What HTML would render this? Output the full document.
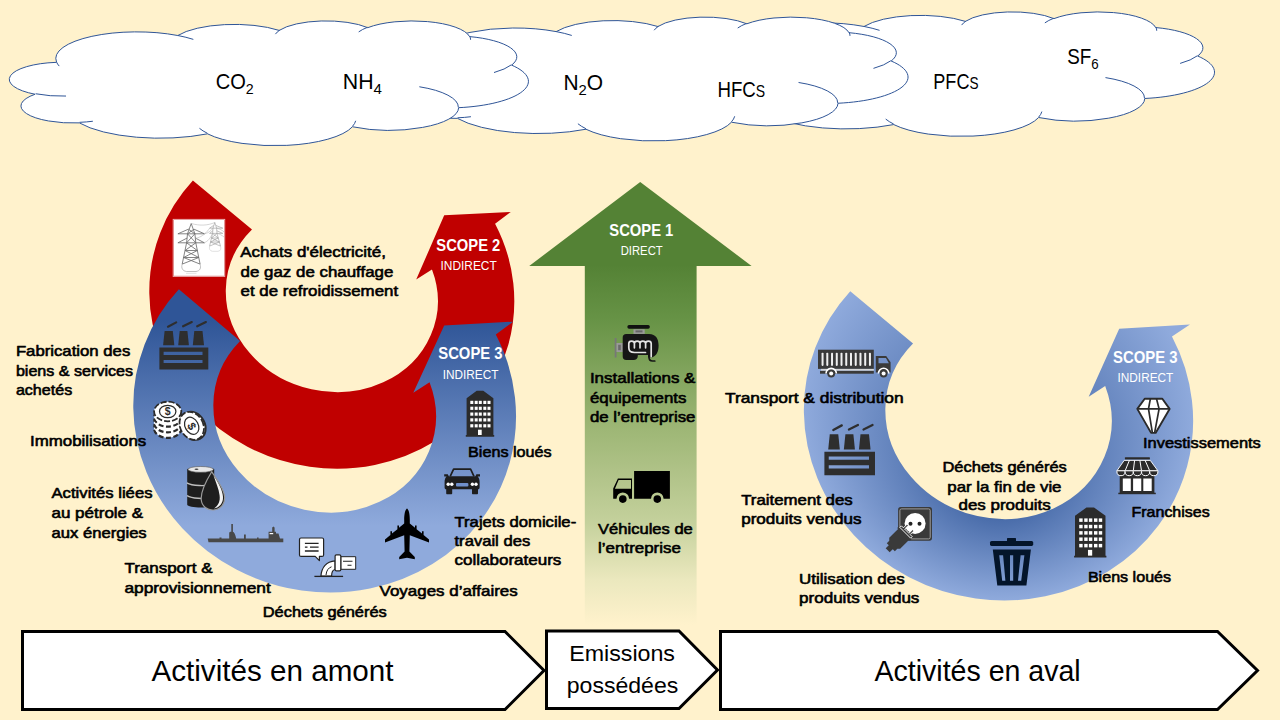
<!DOCTYPE html>
<html><head><meta charset="utf-8"><title>Scopes</title>
<style>
html,body{margin:0;padding:0;background:#FFF2CC;}
body{width:1280px;height:720px;overflow:hidden;position:relative;font-family:"Liberation Sans",sans-serif;}
svg{position:absolute;left:0;top:0;}
.lbl{position:absolute;font-weight:bold;font-size:15px;line-height:20px;color:#000;white-space:nowrap;letter-spacing:0px;}
.cal{position:absolute;white-space:nowrap;color:#000;}
</style></head><body>
<svg width="1280" height="720" viewBox="0 0 1280 720">
<defs>
<linearGradient id="gG" x1="0" y1="182" x2="0" y2="640" gradientUnits="userSpaceOnUse">
<stop offset="0" stop-color="#548235"/><stop offset="0.181" stop-color="#548235"/><stop offset="0.301" stop-color="#679346"/><stop offset="0.541" stop-color="#9EB776"/><stop offset="0.629" stop-color="#AFC287"/><stop offset="0.738" stop-color="#C3D09B"/><stop offset="0.869" stop-color="#EBE8BE"/><stop offset="0.967" stop-color="#FFF2CC"/><stop offset="1" stop-color="#FFF2CC"/></linearGradient>
<linearGradient id="gB" x1="0" y1="290" x2="0" y2="592" gradientUnits="userSpaceOnUse">
<stop offset="0.1" stop-color="#2F5597"/><stop offset="0.78" stop-color="#8FAADC"/></linearGradient>
<radialGradient id="gR" cx="0" cy="0" r="1" fx="0.1055" fy="0.378" gradientUnits="userSpaceOnUse" gradientTransform="translate(998.5 415.4) rotate(15.3) scale(195.4 184.3)">
<stop offset="0" stop-color="#2F5597"/><stop offset="1" stop-color="#8FAADC"/></radialGradient>
</defs>
<path d="M742.79 52.88A81.02 26.46 0 0 1 778.13 27.29A81.02 26.46 0 0 1 864.03 26.48A63.98 20.93 0 0 1 965.42 21.38A52.37 17.12 0 0 1 1053.93 18.64A58.27 18.99 0 0 1 1113.50 12.58A58.27 18.99 0 0 1 1155.73 27.56A63.98 20.94 0 0 1 1197.72 56.02A81.28 26.55 0 0 1 1144.77 98.47A69.41 22.65 0 0 1 1108.78 118.15A69.41 22.65 0 0 1 1038.61 117.51A81.01 26.54 0 0 1 972.99 136.07A81.01 26.54 0 0 1 893.73 124.57A92.62 30.36 0 0 1 765.65 113.64A52.31 17.04 0 0 1 712.85 104.40A52.31 17.04 0 0 1 721.36 85.07A52.13 17.12 0 0 1 696.76 66.67A52.13 17.12 0 0 1 742.35 53.27Z" fill="#fff" stroke="#2F5597" stroke-width="1"/><path d="M752.31 86.88A52.13 17.12 0 0 1 721.91 84.58M779.12 112.00A52.31 17.04 0 0 1 765.82 113.09M893.70 124.06A81.01 26.54 0 0 1 885.69 119.05M1041.86 111.57A81.01 26.54 0 0 1 1038.66 117.07M1105.47 77.60A69.41 22.65 0 0 1 1144.48 98.15M1197.48 55.71A63.98 20.94 0 0 1 1180.11 63.42M1155.80 27.12A58.27 18.99 0 0 1 1156.72 30.76M1044.87 22.88A58.27 18.99 0 0 1 1053.77 18.24M961.64 25.09A52.37 17.12 0 0 1 965.95 21.09M863.97 26.45A81.02 26.46 0 0 1 879.56 30.33M745.51 56.97A81.02 26.46 0 0 1 742.79 52.88" fill="none" stroke="#2F5597" stroke-width="1"/>
<path d="M434.47 57.88A81.33 26.34 0 0 1 469.95 32.42A81.33 26.34 0 0 1 556.18 31.61A64.23 20.83 0 0 1 657.96 26.54A52.57 17.04 0 0 1 746.81 23.81A58.50 18.90 0 0 1 806.61 17.78A58.50 18.90 0 0 1 849.00 32.68A64.23 20.84 0 0 1 891.16 61.00A81.60 26.42 0 0 1 838.00 103.25A69.67 22.54 0 0 1 801.87 122.83A69.67 22.54 0 0 1 731.43 122.20A81.32 26.41 0 0 1 665.56 140.67A81.32 26.41 0 0 1 585.99 129.22A92.98 30.21 0 0 1 457.41 118.35A52.51 16.96 0 0 1 404.42 109.15A52.51 16.96 0 0 1 412.96 89.91A52.33 17.04 0 0 1 388.26 71.60A52.33 17.04 0 0 1 434.03 58.27Z" fill="#fff" stroke="#2F5597" stroke-width="1"/><path d="M444.02 91.72A52.33 17.04 0 0 1 413.51 89.43M470.94 116.71A52.51 16.96 0 0 1 457.59 117.80M585.96 128.72A81.32 26.41 0 0 1 577.92 123.74M734.69 116.29A81.32 26.41 0 0 1 731.48 121.76M798.55 82.48A69.67 22.54 0 0 1 837.71 102.93M890.91 60.70A64.23 20.84 0 0 1 873.48 68.37M849.07 32.25A58.50 18.90 0 0 1 849.99 35.87M737.71 28.03A58.50 18.90 0 0 1 746.65 23.41M654.17 30.23A52.57 17.04 0 0 1 658.49 26.24M556.12 31.58A81.33 26.34 0 0 1 571.77 35.44M437.21 61.95A81.33 26.34 0 0 1 434.47 57.88" fill="none" stroke="#2F5597" stroke-width="1"/>
<path d="M56.51 61.98A81.05 26.53 0 0 1 91.86 36.33A81.05 26.53 0 0 1 177.79 35.52A64.01 20.98 0 0 1 279.22 30.41A52.39 17.16 0 0 1 367.76 27.66A58.30 19.04 0 0 1 427.36 21.59A58.30 19.04 0 0 1 469.61 36.60A64.01 20.99 0 0 1 511.62 65.13A81.32 26.61 0 0 1 458.64 107.68A69.43 22.71 0 0 1 422.64 127.40A69.43 22.71 0 0 1 352.44 126.76A81.04 26.60 0 0 1 286.80 145.37A81.04 26.60 0 0 1 207.50 133.84A92.66 30.43 0 0 1 79.37 122.89A52.33 17.08 0 0 1 26.56 113.62A52.33 17.08 0 0 1 35.07 94.25A52.15 17.16 0 0 1 10.46 75.80A52.15 17.16 0 0 1 56.07 62.37Z" fill="#fff" stroke="#2F5597" stroke-width="1"/><path d="M66.03 96.06A52.15 17.16 0 0 1 35.62 93.76M92.85 121.24A52.33 17.08 0 0 1 79.55 122.34M207.47 133.34A81.04 26.60 0 0 1 199.46 128.31M355.69 120.81A81.04 26.60 0 0 1 352.49 126.32M419.33 86.76A69.43 22.71 0 0 1 458.35 107.36M511.37 64.82A64.01 20.99 0 0 1 494.00 72.54M469.68 36.16A58.30 19.04 0 0 1 470.59 39.81M358.70 31.91A58.30 19.04 0 0 1 367.61 27.26M275.44 34.12A52.39 17.16 0 0 1 279.75 30.11M177.73 35.49A81.05 26.53 0 0 1 193.33 39.38M59.23 66.08A81.05 26.53 0 0 1 56.51 61.98" fill="none" stroke="#2F5597" stroke-width="1"/>

<polygon points="640.2,182 751.6,266 696.6,266 696.6,640 584.8,640 584.8,266 529.2,266" fill="url(#gG)"/>
<path d="M192.88 180.62A183.10 171.80 13.50 0 0 149.31 293.41A183.10 171.80 13.50 0 0 195.94 407.57A183.10 171.80 13.50 0 0 309.72 466.69A183.10 171.80 13.50 0 0 434.41 441.54A183.10 171.80 13.50 0 0 508.39 344.55A183.10 171.80 13.50 0 0 495.08 223.66L510.80 212.00 L444.20 215.30 L416.20 279.50L431.97 269.43A106.60 95.30 13.50 0 1 430.82 334.99A106.60 95.30 13.50 0 1 383.24 382.36A106.60 95.30 13.50 0 1 311.53 389.32A106.60 95.30 13.50 0 1 249.33 352.61A106.60 95.30 13.50 0 1 225.81 289.44A106.60 95.30 13.50 0 1 251.99 229.44Z" fill="#C00000"/>
<path d="M178.87 289.29A192.10 180.80 14.75 0 0 133.28 408.04A192.10 180.80 14.75 0 0 182.29 528.26A192.10 180.80 14.75 0 0 301.67 590.51A192.10 180.80 14.75 0 0 432.41 564.02A192.10 180.80 14.75 0 0 509.88 461.89A192.10 180.80 14.75 0 0 495.79 334.61L513.00 321.70 L444.20 325.50 L413.30 392.80L429.54 382.13A112.00 100.70 14.75 0 1 428.92 451.43A112.00 100.70 14.75 0 1 379.47 501.81A112.00 100.70 14.75 0 1 304.35 509.66A112.00 100.70 14.75 0 1 238.73 471.31A112.00 100.70 14.75 0 1 213.35 404.72A112.00 100.70 14.75 0 1 240.09 341.07Z" fill="url(#gB)"/>
<path d="M850.28 291.28A195.40 184.30 15.30 0 0 803.87 412.55A195.40 184.30 15.30 0 0 853.97 535.23A195.40 184.30 15.30 0 0 975.73 598.50A195.40 184.30 15.30 0 0 1108.78 570.97A195.40 184.30 15.30 0 0 1187.15 466.31A195.40 184.30 15.30 0 0 1171.98 336.40L1190.00 324.50 L1119.20 328.70 L1088.70 396.70L1105.18 385.97A113.90 102.80 15.30 0 1 1104.44 456.84A113.90 102.80 15.30 0 1 1053.96 508.24A113.90 102.80 15.30 0 1 977.43 516.05A113.90 102.80 15.30 0 1 910.80 476.60A113.90 102.80 15.30 0 1 885.35 408.40A113.90 102.80 15.30 0 1 913.03 343.50Z" fill="url(#gR)"/>
<g fill="#fff" stroke="#000" stroke-width="3" stroke-linejoin="miter">
<polygon points="22.5,631.5 505,631.5 544,670.5 505,709.5 22.5,709.5"/>
<polygon points="546.5,631 679,631 717.5,670 679,708.5 546.5,708.5"/>
<polygon points="720.5,631.5 1217.5,631.5 1257.5,670.5 1217.5,709.5 720.5,709.5"/>
</g>
<g font-family="'Liberation Sans',sans-serif">
<rect x="173.7" y="219.9" width="50.5" height="56" fill="#fff"/><rect x="173.2" y="219.4" width="51.5" height="57" fill="none" stroke="#e8b0b0" stroke-width="1"/><g fill="none" stroke="#6e6e6e" stroke-width="0.85" stroke-linejoin="round"><path d="M191.2 223.5L187.5 233.8H177.9L188.4 229.2M191.2 223.5L194.9 233.8H204.4L194 229.2M187.5 233.8H194.9M187.5 233.8L186.6 242.8H177.9L187.2 238M194.9 233.8L195.8 242.8H204.4L195.2 238M186.6 242.8H195.8"/><path d="M186.6 242.8L182.2 264.1M195.8 242.8L200.1 264.1M187.5 233.8L195.8 242.8M194.9 233.8L186.6 242.8M186.6 242.8L197.3 250.5M195.8 242.8L185 250.5M185 250.5H197.3M185 250.5L198.8 257.5M197.3 250.5L183.6 257.5M183.6 257.5H198.8M183.6 257.5L200.1 264.1M198.8 257.5L182.2 264.1M188.4 229.2L194.9 233.8M194 229.2L187.5 233.8"/><path d="M182.2 264.1C181 268 182.5 271 186.5 271.5H196C200 271 201.3 268 200.1 264.1" stroke="#b5b5b5"/><path d="M186 273.3H196.5" stroke="#ddd"/><g stroke="#9a9a9a" stroke-width="0.6"><path d="M214.8 222.5L213 228.2H209.6L213.5 225.5M214.8 222.5L216.6 228.2H222.8L216 225.5M213 228.2H216.6M213 228.2L212.6 233.4H209.6L212.8 230.8M216.6 228.2L217 233.4H222.8L216.8 230.8M212.6 233.4H217M212.6 233.4L209.6 246.1M217 233.4L220.5 246.1M212.6 233.4L218.2 238M217 233.4L211.5 238M211.5 238H218.2M211.5 238L219.4 242M218.2 238L210.6 242M210.6 242H219.4M210.6 242L220.5 246.1M219.4 242L209.6 246.1"/><path d="M209.6 246.1C208.8 249 210 251 212.5 251.3H218C220.5 251 221.4 249 220.5 246.1" stroke="#ccc"/></g><path d="M191.2 223.5C200 226 208 225.5 214.8 222.5M204.4 233.8C210 232.5 211 230 213 228.2M204.4 242.8C210 240 211 236 212.6 233.4M194.9 238.5C203 237 207 232 209.6 228.2M216.6 228.2C220 229 222 230 224 232M217 233.4C220 234 222 235.5 224 237" stroke="#aaa" stroke-width="0.5"/></g>
<g transform="translate(159.4 321.5) scale(1.0000 1.0000)" fill="#2e2e2e">
<g stroke="#2e2e2e" stroke-width="2.2" stroke-linecap="round"><path d="M8.6 5.2L16.8 0.9M23.7 4.8L32.4 0.6M37.8 4.8L46.5 0.6"/></g>
<polygon points="3.7,23.7 5.2,9.4 13.4,9.4 14.9,23.7"/><polygon points="18.8,23.7 20.3,9.4 28,9.4 29.5,23.7"/><polygon points="33.4,23.7 34.9,9.4 43.1,9.4 44.6,23.7"/>
<path fill-rule="evenodd" d="M0 25.9H48.9V48H0ZM4.2 30.3V33.4H43.1V30.3ZM4.2 38.5V41.5H43.1V38.5Z"/>
</g>
<g stroke="#2b2b2b" stroke-width="1.3" fill="#fff"><ellipse cx="167.7" cy="428.3" rx="13.6" ry="9.6" stroke-dasharray="5 2.5" stroke-width="2.2"/><ellipse cx="167.7" cy="427.1" rx="13" ry="9" stroke="none"/><ellipse cx="167.7" cy="422.7" rx="13.6" ry="9.6" stroke-dasharray="5 2.5" stroke-width="2.2"/><ellipse cx="167.7" cy="421.5" rx="13" ry="9" stroke="none"/><ellipse cx="167.7" cy="417.1" rx="13.6" ry="9.6" stroke-dasharray="5 2.5" stroke-width="2.2"/><ellipse cx="167.7" cy="415.9" rx="13" ry="9" stroke="none"/><ellipse cx="167.7" cy="411.5" rx="13.6" ry="9.8" stroke-width="1.8" stroke-dasharray="6 2"/><ellipse cx="167.7" cy="411.5" rx="12" ry="8.4" stroke="none"/><ellipse cx="167.7" cy="411.5" rx="8.2" ry="6.2" stroke-width="1.25"/><g transform="rotate(-28 191.7 425.8)"><ellipse cx="193.2" cy="426.6" rx="11.5" ry="14.6" stroke-width="2" /><ellipse cx="191.7" cy="425.8" rx="11.5" ry="14.6" stroke-width="1.8" stroke-dasharray="6 2"/><ellipse cx="191.7" cy="425.8" rx="10" ry="13" stroke="none"/><ellipse cx="191.7" cy="425.8" rx="6.6" ry="9" stroke-width="1.25"/></g></g><text x="167.7" y="415.3" font-size="10.5" font-weight="bold" text-anchor="middle" fill="#2b2b2b" transform="translate(0 0)">$</text><text x="191.9" y="430.2" font-size="11.5" font-weight="bold" text-anchor="middle" fill="#2b2b2b" transform="rotate(62 191.9 426)">$</text>
<g>
<path d="M187.2 469.5C187.2 466.5 214.2 466.5 214.2 469.5V504.5C214.2 508.5 187.2 508.5 187.2 504.5Z" fill="#1e1e1e"/>
<ellipse cx="200.7" cy="469.4" rx="12.6" ry="2.9" fill="#e8e8e8" stroke="#555" stroke-width="0.6"/><ellipse cx="196.5" cy="469.2" rx="2" ry="0.8" fill="#444"/>
<path d="M186.8 482.8C192 486 206 486.5 214 484M187 495.6C192 498.6 203 499.2 212 497.5" fill="none" stroke="#bdbdbd" stroke-width="1.4"/>
<path d="M211.7 471.7C206 481 200.6 491 201.2 499.5C201.8 506.5 207.5 510.3 213.6 510C220.5 509.6 225.3 504 224.6 496.5C223.8 488 216.5 479 211.7 471.7Z" fill="#1e1e1e" stroke="#9a9a9a" stroke-width="1.2"/>
<path d="M213.5 475.5C218.5 483 222.6 490 223 497C223.3 503 219.5 507.6 214 508.6C218.5 505.5 220.3 501 219.6 495.5C218.8 489 216 482.5 213.5 475.5Z" fill="#f2f2f2"/>
</g>
<path fill="#484848" d="M207.7 538.4H219.5V537.6H221.5V538.4H229.2V533.2C229.2 532 230 531.8 231.3 531.8V524H232.9V531.8C234 531.8 235.2 534 236.2 538.4H244V534.5H245.8V538.4H257V537.4H258.6V538.4H268.6V531.8H272.2V527.5L273.4 526.5L274.6 527.5V531.8H276V533.5H278.5L280 538.4H283.3V542.3H208.5Z"/>
<rect x="269.6" y="533" width="3.6" height="1.2" fill="#fff"/>
<g stroke="#222" stroke-width="1.2" fill="#fff" stroke-linejoin="round">
<path d="M301 538H322.1C323 538 323.6 538.7 323.6 539.5V554.9C323.6 555.7 323 556.4 322.1 556.4H319.4V560.6L315.2 556.4H301C300.2 556.4 299.5 555.7 299.5 554.9V539.5C299.5 538.7 300.2 538 301 538Z"/>
<path d="M304.9 543.4H318.6M304.9 547.2H307.5M310 547.2H318.6M304.9 551H318.6" fill="none" stroke-width="1.3"/>
<path d="M320.9 576.2C321.5 568 326 561.5 335.1 560.8V569.5C332.5 569.8 331.6 572.5 331.6 576.2Z"/>
<path d="M326 575C326.4 570.5 328.5 567.8 331.5 566.8" fill="none" stroke-width="1"/>
<rect x="340.8" y="556.7" width="14.9" height="12.6" stroke-width="1"/>
<path d="M343 561.2H352.5M347.5 565.2H351.5" fill="none" stroke-width="1.1"/>
<rect x="335.1" y="554.8" width="5.7" height="16.1" rx="1.3"/>
<path d="M314.4 576.4H343.1" fill="none" stroke-width="1.3"/>
</g>
<path fill="#000" d="M407 508.6C409.2 510 409.8 515.5 409.8 520V523.6L415 527.8V525.5H416.6V529.2L422 533.6V531.3H423.6V535L429 539.5V542.6L409.8 535.2L409.4 551.5L414.8 557V559.3L407 557.8L399.2 559.3V557L404.6 551.5L404.2 535.2L385 542.6V539.5L390.4 535V531.3H392V533.6L397.4 529.2V525.5H399V527.8L404.2 523.6V520C404.2 515.5 404.8 510 407 508.6Z"/>
<g>
<path d="M450.2 476.3L453.6 469.2H470.6L474 476.3" fill="none" stroke="#1e1e1e" stroke-width="1.7" stroke-linejoin="round"/>
<path fill="#1e1e1e" d="M444.2 474.3H447.8L448.8 476.2H475.4L476.4 474.3H480V476.6H477.6C479 477.6 479.6 479.5 479.6 482V487.5C479.6 488.6 479 489.3 478 489.3V493.2C478 493.8 477.6 494.2 477 494.2H473C472.4 494.2 472 493.8 472 493.2V489.3H452.2V493.2C452.2 493.8 451.8 494.2 451.2 494.2H447.2C446.6 494.2 446.2 493.8 446.2 493.2V489.3C445.2 489.3 444.6 488.6 444.6 487.5V482C444.6 479.5 445.2 477.6 446.6 476.6H444.2Z"/>
<g fill="#fff"><circle cx="448.2" cy="484.3" r="1.7"/><circle cx="451.8" cy="484.3" r="1.7"/><circle cx="472.4" cy="484.3" r="1.7"/><circle cx="476" cy="484.3" r="1.7"/></g>
<rect x="456" y="483" width="12.4" height="3.6" rx="1" fill="#6f8fca"/>
</g>
<g transform="translate(465.8 390.8) scale(1.0000 1.0000)"><path fill="#2b2b2b" d="M0.8 44.3V7.5L10.9 0H17.5L27.6 7.5V44.3H28.4V45.9H0V44.3Z"/><g fill="#fff"><rect x="4.5" y="10.0" width="3" height="3.2"/><rect x="4.5" y="15.9" width="3" height="3.2"/><rect x="4.5" y="21.7" width="3" height="3.2"/><rect x="4.5" y="27.5" width="3" height="3.2"/><rect x="4.5" y="33.4" width="3" height="3.2"/><rect x="8.9" y="10.0" width="3" height="3.2"/><rect x="8.9" y="15.9" width="3" height="3.2"/><rect x="8.9" y="21.7" width="3" height="3.2"/><rect x="8.9" y="27.5" width="3" height="3.2"/><rect x="8.9" y="33.4" width="3" height="3.2"/><rect x="13.0" y="10.0" width="3" height="3.2"/><rect x="13.0" y="15.9" width="3" height="3.2"/><rect x="13.0" y="21.7" width="3" height="3.2"/><rect x="13.0" y="27.5" width="3" height="3.2"/><rect x="13.0" y="33.4" width="3" height="3.2"/><rect x="17.5" y="10.0" width="3" height="3.2"/><rect x="17.5" y="15.9" width="3" height="3.2"/><rect x="17.5" y="21.7" width="3" height="3.2"/><rect x="17.5" y="27.5" width="3" height="3.2"/><rect x="17.5" y="33.4" width="3" height="3.2"/><rect x="21.7" y="10.0" width="3" height="3.2"/><rect x="21.7" y="15.9" width="3" height="3.2"/><rect x="21.7" y="21.7" width="3" height="3.2"/><rect x="21.7" y="27.5" width="3" height="3.2"/><rect x="21.7" y="33.4" width="3" height="3.2"/><rect x="12.2" y="38.9" width="3.7" height="5.3"/></g></g>
<g>
<rect x="627.4" y="325" width="22.4" height="3.7" rx="1.6" fill="#111"/>
<rect x="633.5" y="329.3" width="11.2" height="4.6" fill="#9a9a9a"/><rect x="635.5" y="330.4" width="7" height="2" fill="#666"/>
<rect x="614.7" y="338" width="1.8" height="19.5" fill="#777"/><rect x="616.5" y="343" width="6.4" height="9" fill="#9a9a9a"/><rect x="618.2" y="344.8" width="2.6" height="5.4" fill="#6a6a6a"/>
<path fill="#161616" d="M626.2 334H649C656 334 658.6 339 658.6 345.5C658.6 351.5 656.5 355.8 652.5 357.2L648 357.4V355H637.8V356C637.8 358.5 636 360 633.5 360H626.2C624 360 622.7 358.6 622.7 356.5V337.5C622.7 335.4 624 334 626.2 334Z"/>
<path d="M628.8 347.8V343.6C628.8 340.2 634.4 340.2 634.4 343.6V347.8M634.4 343.6C634.4 340.2 640 340.2 640 343.6V347.8M640 343.6C640 340.2 645.6 340.2 645.6 343.6V347.8M645.6 343.6C645.6 340.2 651.2 340.2 651.2 343.6V356.6M628.8 347.8C628.8 351.6 631.5 352.5 634.5 352.5H645.5" fill="none" stroke="#e4e4e4" stroke-width="1.7" stroke-linecap="round"/>
<path d="M649 353V357C649 360 650.5 361 652.5 361H654.8" fill="none" stroke="#161616" stroke-width="1.7" stroke-linecap="round"/>
</g>
<g fill="#000">
<path fill-rule="evenodd" d="M634.1 471H669.9V498.8H663.6A6.3 6.3 0 0 0 651 498.8H634.1Z"/>
<path fill-rule="evenodd" d="M617.9 478.4H632V498.8H629.1A6.3 6.3 0 0 0 616.5 498.8H613.2V488.4ZM618.6 480L614.9 488.8H631V480Z"/>
<circle cx="622.8" cy="499.1" r="3.8"/><circle cx="657.3" cy="499.1" r="3.8"/>
</g>
<g><rect x="818" y="349.7" width="55.8" height="19.2" fill="#3a3a3a"/><rect x="821.55" y="352.8" width="2" height="13.1" rx="0.8" fill="#f0f0f0"/><rect x="826.29" y="352.8" width="2" height="13.1" rx="0.8" fill="#f0f0f0"/><rect x="831.03" y="352.8" width="2" height="13.1" rx="0.8" fill="#f0f0f0"/><rect x="835.77" y="352.8" width="2" height="13.1" rx="0.8" fill="#f0f0f0"/><rect x="840.51" y="352.8" width="2" height="13.1" rx="0.8" fill="#f0f0f0"/><rect x="845.25" y="352.8" width="2" height="13.1" rx="0.8" fill="#f0f0f0"/><rect x="849.99" y="352.8" width="2" height="13.1" rx="0.8" fill="#f0f0f0"/><rect x="854.73" y="352.8" width="2" height="13.1" rx="0.8" fill="#f0f0f0"/><rect x="859.47" y="352.8" width="2" height="13.1" rx="0.8" fill="#f0f0f0"/><rect x="864.21" y="352.8" width="2" height="13.1" rx="0.8" fill="#f0f0f0"/><rect x="868.95" y="352.8" width="2" height="13.1" rx="0.8" fill="#f0f0f0"/><rect x="821" y="368.9" width="52.8" height="1.8" fill="#d8d8d8"/><rect x="820" y="370.9" width="53.8" height="2.8" fill="#3a3a3a"/><path fill="#3a3a3a" fill-rule="evenodd" d="M875.8 356.1H886.2L890.6 362.2V372.6H875.8ZM878.5 358.1V363.2H888.9L885.9 358.1Z"/><path d="M826.0 373.5A5.2 5.2 0 0 1 836.4 373.5" fill="none" stroke="#fff" stroke-width="1.6"/><circle cx="831.2" cy="373.5" r="3.9" fill="#3a3a3a"/><circle cx="831.2" cy="373.5" r="2" fill="#fff"/><path d="M878.4 373.5A5.2 5.2 0 0 1 888.8 373.5" fill="none" stroke="#fff" stroke-width="1.6"/><circle cx="883.6" cy="373.5" r="3.9" fill="#3a3a3a"/><circle cx="883.6" cy="373.5" r="2" fill="#fff"/></g>
<g transform="translate(824.4 424.4) scale(1.0348 1.0604)" fill="#2e2e2e">
<g stroke="#2e2e2e" stroke-width="2.2" stroke-linecap="round"><path d="M8.6 5.2L16.8 0.9M23.7 4.8L32.4 0.6M37.8 4.8L46.5 0.6"/></g>
<polygon points="3.7,23.7 5.2,9.4 13.4,9.4 14.9,23.7"/><polygon points="18.8,23.7 20.3,9.4 28,9.4 29.5,23.7"/><polygon points="33.4,23.7 34.9,9.4 43.1,9.4 44.6,23.7"/>
<path fill-rule="evenodd" d="M0 25.9H48.9V48H0ZM4.2 30.3V33.4H43.1V30.3ZM4.2 38.5V41.5H43.1V38.5Z"/>
</g>
<g>
<rect x="898.1" y="507.1" width="33.9" height="33.6" rx="2.6" fill="#3a3a3a"/>
<rect x="899.9" y="508.9" width="30.3" height="30" rx="1.6" fill="none" stroke="#a8a8a8" stroke-width="0.9"/>
<circle cx="915.1" cy="523.4" r="10.5" fill="#fff"/><circle cx="910.5" cy="523.8" r="2" fill="#222"/><circle cx="919.5" cy="523.8" r="2" fill="#222"/>
<g transform="rotate(-45 900 538)">
<rect x="882.6" y="535.2" width="5.4" height="5.6" fill="#3a3a3a"/>
<path d="M887 532.3H890.5L892.5 530.3H905V529H907.4V547H905V545.7H892.5L890.5 543.7H887Z" fill="#3a3a3a"/>
<path d="M907.4 530.4H909.6V533.2H914.8V535H909.6V541H914.8V542.8H909.6V545.6H907.4Z" fill="#3a3a3a" stroke="#fff" stroke-width="0.9"/>
</g>
</g>
<g fill="#04152a">
<rect x="1007" y="537.9" width="9" height="4" rx="0.6"/>
<rect x="990" y="541" width="43.2" height="4.9" rx="1.6"/>
<path fill-rule="evenodd" d="M992.8 549.4H1030.9L1026.4 585.6H997.3ZM999.2 555.2L1002.2 580.8H1005.4L1003.1 555.2ZM1010 555.2V580.8H1013.2V555.2ZM1020.6 555.2L1018 580.8H1021.2L1024.4 555.2Z"/>
</g>
<g transform="translate(1074.1 507.5) scale(1.1373 1.0893)"><path fill="#2b2b2b" d="M0.8 44.3V7.5L10.9 0H17.5L27.6 7.5V44.3H28.4V45.9H0V44.3Z"/><g fill="#fff"><rect x="4.5" y="10.0" width="3" height="3.2"/><rect x="4.5" y="15.9" width="3" height="3.2"/><rect x="4.5" y="21.7" width="3" height="3.2"/><rect x="4.5" y="27.5" width="3" height="3.2"/><rect x="4.5" y="33.4" width="3" height="3.2"/><rect x="8.9" y="10.0" width="3" height="3.2"/><rect x="8.9" y="15.9" width="3" height="3.2"/><rect x="8.9" y="21.7" width="3" height="3.2"/><rect x="8.9" y="27.5" width="3" height="3.2"/><rect x="8.9" y="33.4" width="3" height="3.2"/><rect x="13.0" y="10.0" width="3" height="3.2"/><rect x="13.0" y="15.9" width="3" height="3.2"/><rect x="13.0" y="21.7" width="3" height="3.2"/><rect x="13.0" y="27.5" width="3" height="3.2"/><rect x="13.0" y="33.4" width="3" height="3.2"/><rect x="17.5" y="10.0" width="3" height="3.2"/><rect x="17.5" y="15.9" width="3" height="3.2"/><rect x="17.5" y="21.7" width="3" height="3.2"/><rect x="17.5" y="27.5" width="3" height="3.2"/><rect x="17.5" y="33.4" width="3" height="3.2"/><rect x="21.7" y="10.0" width="3" height="3.2"/><rect x="21.7" y="15.9" width="3" height="3.2"/><rect x="21.7" y="21.7" width="3" height="3.2"/><rect x="21.7" y="27.5" width="3" height="3.2"/><rect x="21.7" y="33.4" width="3" height="3.2"/><rect x="12.2" y="38.9" width="3.7" height="5.3"/></g></g>
<g><rect x="1124.9" y="457.3" width="25" height="2.2" rx="0.5" fill="#2b2b2b"/><rect x="1119.7" y="474" width="34.7" height="19.8" fill="#2b2b2b"/><g fill="#fff"><rect x="1122.8" y="478.5" width="8" height="12.5"/><rect x="1133.1" y="478.5" width="8.15" height="12.5"/><rect x="1143.3" y="478.5" width="8.4" height="12.5"/></g><rect x="1118.3" y="492.7" width="37.5" height="1.5" fill="#2b2b2b"/><path d="M1124.2 460.4H1150.3L1157.9 470.8H1116.9Z" fill="#2b2b2b" stroke="#fff" stroke-width="0.9"/><path d="M1129.4 460.4L1125.1 470.8" stroke="#fff" stroke-width="1" fill="none"/><path d="M1134.6 460.4L1133.3 470.8" stroke="#fff" stroke-width="1" fill="none"/><path d="M1139.9 460.4L1141.5 470.8" stroke="#fff" stroke-width="1" fill="none"/><path d="M1145.1 460.4L1149.7 470.8" stroke="#fff" stroke-width="1" fill="none"/><path d="M1116.9 470.8H1125.1V471.6A4.1 4.1 0 0 1 1116.9 471.6Z" fill="#2b2b2b" stroke="#fff" stroke-width="1"/><path d="M1125.1 470.8H1133.3V471.6A4.1 4.1 0 0 1 1125.1 471.6Z" fill="#2b2b2b" stroke="#fff" stroke-width="1"/><path d="M1133.3 470.8H1141.5V471.6A4.1 4.1 0 0 1 1133.3 471.6Z" fill="#2b2b2b" stroke="#fff" stroke-width="1"/><path d="M1141.5 470.8H1149.7V471.6A4.1 4.1 0 0 1 1141.5 471.6Z" fill="#2b2b2b" stroke="#fff" stroke-width="1"/><path d="M1149.7 470.8H1157.9V471.6A4.1 4.1 0 0 1 1149.7 471.6Z" fill="#2b2b2b" stroke="#fff" stroke-width="1"/></g>
<g stroke="#2b2b2b" stroke-width="1.9" stroke-linejoin="round" fill="#fff">
<path d="M1144.7 398.7H1162.3L1169.6 408.9L1155.6 432.9H1151.1L1137.3 408.9Z"/>
<path d="M1137.3 408.9H1169.6M1150.4 398.7L1148.5 408.9L1152.4 432.9M1156.5 398.7L1159.1 408.9L1154.6 432.9" fill="none" stroke-width="1.7"/>
</g>
<text x="240.3" y="257.2" font-size="15.4" stroke="#000" stroke-width="0.6" stroke-linejoin="round" textLength="145.7" lengthAdjust="spacingAndGlyphs">Achats d'électricité,</text>
<text x="240.6" y="276.6" font-size="15.4" stroke="#000" stroke-width="0.6" stroke-linejoin="round" textLength="152.8" lengthAdjust="spacingAndGlyphs">de gaz de chauffage</text>
<text x="240.6" y="296.2" font-size="15.4" stroke="#000" stroke-width="0.6" stroke-linejoin="round" textLength="157.5" lengthAdjust="spacingAndGlyphs">et de refroidissement</text>
<text x="15.9" y="356.2" font-size="15.0" stroke="#000" stroke-width="0.6" stroke-linejoin="round" textLength="114.4" lengthAdjust="spacingAndGlyphs">Fabrication des</text>
<text x="15.9" y="375.9" font-size="15.0" stroke="#000" stroke-width="0.6" stroke-linejoin="round" textLength="117.2" lengthAdjust="spacingAndGlyphs">biens &amp; services</text>
<text x="15.9" y="395.2" font-size="15.0" stroke="#000" stroke-width="0.6" stroke-linejoin="round" textLength="56.3" lengthAdjust="spacingAndGlyphs">achetés</text>
<text x="30.0" y="446.2" font-size="15.0" stroke="#000" stroke-width="0.6" stroke-linejoin="round" textLength="116.2" lengthAdjust="spacingAndGlyphs">Immobilisations</text>
<text x="51.5" y="498.3" font-size="15.0" stroke="#000" stroke-width="0.6" stroke-linejoin="round" textLength="101.0" lengthAdjust="spacingAndGlyphs">Activités liées</text>
<text x="51.5" y="517.7" font-size="15.0" stroke="#000" stroke-width="0.6" stroke-linejoin="round" textLength="91.6" lengthAdjust="spacingAndGlyphs">au pétrole &amp;</text>
<text x="51.5" y="537.5" font-size="15.0" stroke="#000" stroke-width="0.6" stroke-linejoin="round" textLength="95.2" lengthAdjust="spacingAndGlyphs">aux énergies</text>
<text x="124.4" y="573.3" font-size="15.0" stroke="#000" stroke-width="0.6" stroke-linejoin="round" textLength="88.1" lengthAdjust="spacingAndGlyphs">Transport &amp;</text>
<text x="124.4" y="592.7" font-size="15.0" stroke="#000" stroke-width="0.6" stroke-linejoin="round" textLength="146.4" lengthAdjust="spacingAndGlyphs">approvisionnement</text>
<text x="262.7" y="616.9" font-size="15.0" stroke="#000" stroke-width="0.6" stroke-linejoin="round" textLength="124.1" lengthAdjust="spacingAndGlyphs">Déchets générés</text>
<text x="379.6" y="596.1" font-size="15.0" stroke="#000" stroke-width="0.6" stroke-linejoin="round" textLength="138.1" lengthAdjust="spacingAndGlyphs">Voyages d’affaires</text>
<text x="454.5" y="526.6" font-size="15.0" stroke="#000" stroke-width="0.6" stroke-linejoin="round" textLength="121.7" lengthAdjust="spacingAndGlyphs">Trajets domicile-</text>
<text x="454.5" y="545.7" font-size="15.0" stroke="#000" stroke-width="0.6" stroke-linejoin="round" textLength="75.7" lengthAdjust="spacingAndGlyphs">travail des</text>
<text x="454.5" y="565.3" font-size="15.0" stroke="#000" stroke-width="0.6" stroke-linejoin="round" textLength="106.8" lengthAdjust="spacingAndGlyphs">collaborateurs</text>
<text x="468.0" y="457.2" font-size="15.0" stroke="#000" stroke-width="0.6" stroke-linejoin="round" textLength="83.7" lengthAdjust="spacingAndGlyphs">Biens loués</text>
<text x="589.9" y="383.4" font-size="15.0" stroke="#000" stroke-width="0.6" stroke-linejoin="round" textLength="105.5" lengthAdjust="spacingAndGlyphs">Installations &amp;</text>
<text x="589.9" y="402.6" font-size="15.0" stroke="#000" stroke-width="0.6" stroke-linejoin="round" textLength="96.6" lengthAdjust="spacingAndGlyphs">équipements</text>
<text x="589.9" y="422.1" font-size="15.0" stroke="#000" stroke-width="0.6" stroke-linejoin="round" textLength="105.5" lengthAdjust="spacingAndGlyphs">de l’entreprise</text>
<text x="598.1" y="534.4" font-size="15.0" stroke="#000" stroke-width="0.6" stroke-linejoin="round" textLength="94.7" lengthAdjust="spacingAndGlyphs">Véhicules de</text>
<text x="598.1" y="553.1" font-size="15.0" stroke="#000" stroke-width="0.6" stroke-linejoin="round" textLength="82.8" lengthAdjust="spacingAndGlyphs">l’entreprise</text>
<text x="725.0" y="402.8" font-size="15.0" stroke="#000" stroke-width="0.6" stroke-linejoin="round" textLength="178.6" lengthAdjust="spacingAndGlyphs">Transport &amp; distribution</text>
<text x="741.2" y="504.7" font-size="15.0" stroke="#000" stroke-width="0.6" stroke-linejoin="round" textLength="111.5" lengthAdjust="spacingAndGlyphs">Traitement des</text>
<text x="741.2" y="523.8" font-size="15.0" stroke="#000" stroke-width="0.6" stroke-linejoin="round" textLength="120.4" lengthAdjust="spacingAndGlyphs">produits vendus</text>
<text x="799.0" y="583.8" font-size="15.0" stroke="#000" stroke-width="0.6" stroke-linejoin="round" textLength="105.7" lengthAdjust="spacingAndGlyphs">Utilisation des</text>
<text x="799.0" y="602.5" font-size="15.0" stroke="#000" stroke-width="0.6" stroke-linejoin="round" textLength="120.4" lengthAdjust="spacingAndGlyphs">produits vendus</text>
<text x="942.5" y="472.3" font-size="15.0" stroke="#000" stroke-width="0.6" stroke-linejoin="round" textLength="124.3" lengthAdjust="spacingAndGlyphs">Déchets générés</text>
<text x="947.3" y="491.5" font-size="15.0" stroke="#000" stroke-width="0.6" stroke-linejoin="round" textLength="114.2" lengthAdjust="spacingAndGlyphs">par la fin de vie</text>
<text x="958.5" y="510.3" font-size="15.0" stroke="#000" stroke-width="0.6" stroke-linejoin="round" textLength="92.3" lengthAdjust="spacingAndGlyphs">des produits</text>
<text x="1131.5" y="517.3" font-size="15.0" stroke="#000" stroke-width="0.6" stroke-linejoin="round" textLength="78.2" lengthAdjust="spacingAndGlyphs">Franchises</text>
<text x="1087.9" y="581.5" font-size="15.0" stroke="#000" stroke-width="0.6" stroke-linejoin="round" textLength="83.2" lengthAdjust="spacingAndGlyphs">Biens loués</text>
<text x="1143.0" y="448.4" font-size="15.0" stroke="#000" stroke-width="0.6" stroke-linejoin="round" textLength="117.8" lengthAdjust="spacingAndGlyphs">Investissements</text>
<text x="436.3" y="250.8" font-size="16.4" font-weight="bold" fill="#fff" textLength="64.0" lengthAdjust="spacingAndGlyphs">SCOPE 2</text>
<text x="440.5" y="270.0" font-size="12.5" font-weight="normal" fill="#fff" textLength="56.2" lengthAdjust="spacingAndGlyphs">INDIRECT</text>
<text x="438.3" y="359.3" font-size="16.4" font-weight="bold" fill="#fff" textLength="64.2" lengthAdjust="spacingAndGlyphs">SCOPE 3</text>
<text x="442.7" y="378.8" font-size="12.5" font-weight="normal" fill="#fff" textLength="55.8" lengthAdjust="spacingAndGlyphs">INDIRECT</text>
<text x="609.3" y="236.0" font-size="16.4" font-weight="bold" fill="#fff" textLength="64.0" lengthAdjust="spacingAndGlyphs">SCOPE 1</text>
<text x="620.7" y="255.0" font-size="12.5" font-weight="normal" fill="#fff" textLength="42.0" lengthAdjust="spacingAndGlyphs">DIRECT</text>
<text x="1113.0" y="362.8" font-size="16.4" font-weight="bold" fill="#fff" textLength="64.5" lengthAdjust="spacingAndGlyphs">SCOPE 3</text>
<text x="1117.5" y="382.2" font-size="12.5" font-weight="normal" fill="#fff" textLength="55.8" lengthAdjust="spacingAndGlyphs">INDIRECT</text>
<text x="151.5" y="680.8" font-size="29.8" font-weight="normal" fill="#000" textLength="242.0" lengthAdjust="spacingAndGlyphs">Activités en amont</text>
<text x="874.5" y="680.8" font-size="29.8" font-weight="normal" fill="#000" textLength="206.2" lengthAdjust="spacingAndGlyphs">Activités en aval</text>
<text x="569.2" y="661.2" font-size="22.2" font-weight="normal" fill="#000" textLength="105.8" lengthAdjust="spacingAndGlyphs">Emissions</text>
<text x="566.8" y="692.5" font-size="22.2" font-weight="normal" fill="#000" textLength="111.5" lengthAdjust="spacingAndGlyphs">possédées</text>
<text x="215.7" y="88.9" font-size="21.6" textLength="38.0" lengthAdjust="spacingAndGlyphs"><tspan font-size="21.6" dy="0.0">CO</tspan><tspan font-size="15.3" dy="4.8">2</tspan></text>
<text x="342.8" y="89.2" font-size="21.6" textLength="39.2" lengthAdjust="spacingAndGlyphs"><tspan font-size="21.6" dy="0.0">NH</tspan><tspan font-size="15.3" dy="5.2">4</tspan></text>
<text x="563.4" y="89.6" font-size="21.6" textLength="39.7" lengthAdjust="spacingAndGlyphs"><tspan font-size="21.6" dy="0.0">N</tspan><tspan font-size="15.3" dy="5.4">2</tspan><tspan font-size="21.6" dy="-5.4">O</tspan></text>
<text x="717.5" y="96.6" font-size="21.6" textLength="47.7" lengthAdjust="spacingAndGlyphs"><tspan font-size="21.6" dy="0.0">HFC</tspan><tspan font-size="16.2" dy="0.0">S</tspan></text>
<text x="933.3" y="88.6" font-size="21.6" textLength="45.2" lengthAdjust="spacingAndGlyphs"><tspan font-size="21.6" dy="0.0">PFC</tspan><tspan font-size="16.2" dy="0.0">S</tspan></text>
<text x="1067.2" y="63.6" font-size="21.6" textLength="31.5" lengthAdjust="spacingAndGlyphs"><tspan font-size="21.6" dy="0.0">SF</tspan><tspan font-size="15.3" dy="5.1">6</tspan></text>
</g>
</svg>
</body></html>
